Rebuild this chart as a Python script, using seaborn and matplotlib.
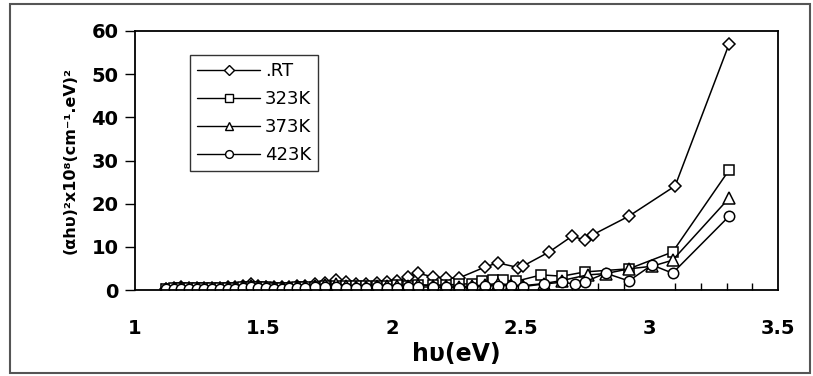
import numpy as np
import pandas as pd
import matplotlib
matplotlib.use("Agg")
import matplotlib.pyplot as plt
from matplotlib.lines import Line2D
from matplotlib.patches import Rectangle
from matplotlib.ticker import MultipleLocator
import seaborn as sns

# ---- data ----
series_names = [".RT", "323K", "373K", "423K"]

x_rt = [1.12, 1.15, 1.18, 1.21, 1.24, 1.27, 1.30, 1.33, 1.36, 1.39, 1.42, 1.45, 1.48, 1.51,
        1.54, 1.57, 1.60, 1.63, 1.66, 1.70, 1.74, 1.78, 1.82, 1.86, 1.90, 1.94, 1.98, 2.02,
        2.06, 2.10, 2.16, 2.21, 2.26, 2.36, 2.41, 2.49, 2.51, 2.61, 2.70, 2.75, 2.78, 2.92,
        3.10, 3.31]
y_rt = [0.3, 0.5, 0.8, 0.5, 0.4, 0.5, 0.4, 0.5, 0.6, 0.7, 0.9, 1.3, 1.0, 0.8,
        0.7, 0.6, 0.8, 0.9, 1.0, 1.4, 1.6, 2.3, 1.9, 1.5, 1.3, 1.6, 1.8, 2.0,
        3.0, 3.9, 3.0, 2.8, 2.8, 5.3, 6.3, 5.2, 5.6, 8.8, 12.5, 11.5, 12.8, 17.1,
        24.1, 57.0]

x_323 = [1.12, 1.15, 1.18, 1.21, 1.24, 1.27, 1.30, 1.33, 1.36, 1.39, 1.42, 1.45, 1.48, 1.51,
         1.54, 1.57, 1.60, 1.63, 1.66, 1.70, 1.74, 1.78, 1.82, 1.86, 1.90, 1.94, 1.98, 2.02,
         2.06, 2.10, 2.16, 2.21, 2.26, 2.31, 2.35, 2.39, 2.43, 2.48, 2.58, 2.66, 2.75, 2.92,
         3.09, 3.31]
y_323 = [0.3, 0.4, 0.5, 0.4, 0.4, 0.4, 0.4, 0.4, 0.5, 0.5, 0.6, 0.7, 0.7, 0.6,
         0.5, 0.5, 0.5, 0.6, 0.7, 0.8, 0.9, 1.0, 1.0, 0.9, 0.9, 1.0, 1.0, 1.1,
         1.0, 1.2, 1.1, 1.2, 1.3, 1.5, 2.0, 2.3, 2.3, 2.0, 3.5, 3.2, 4.2, 4.9,
         8.8, 27.8]

x_373 = [1.12, 1.15, 1.18, 1.21, 1.24, 1.27, 1.30, 1.33, 1.36, 1.39, 1.42, 1.45, 1.48, 1.51,
         1.54, 1.57, 1.60, 1.63, 1.66, 1.70, 1.74, 1.78, 1.82, 1.86, 1.90, 1.94, 1.98, 2.02,
         2.06, 2.10, 2.16, 2.21, 2.26, 2.31, 2.36, 2.41, 2.46, 2.51, 2.59, 2.66, 2.76, 2.83,
         2.92, 3.01, 3.09, 3.31]
y_373 = [0.2, 0.3, 0.4, 0.3, 0.3, 0.3, 0.3, 0.3, 0.4, 0.5, 0.7, 0.9, 0.8, 0.6,
         0.5, 0.4, 0.5, 0.6, 0.7, 0.9, 1.2, 1.4, 1.0, 0.8, 0.8, 0.9, 1.0, 1.0,
         1.0, 1.2, 1.0, 1.0, 0.8, 0.9, 1.2, 1.5, 1.2, 1.0, 1.5, 2.2, 3.5, 3.8,
         4.9, 5.5, 6.9, 21.3]

x_423 = [1.12, 1.15, 1.18, 1.21, 1.24, 1.27, 1.30, 1.33, 1.36, 1.39, 1.42, 1.45, 1.48, 1.51,
         1.54, 1.57, 1.60, 1.63, 1.66, 1.70, 1.74, 1.78, 1.82, 1.86, 1.90, 1.94, 1.98, 2.02,
         2.06, 2.10, 2.16, 2.21, 2.26, 2.31, 2.36, 2.41, 2.46, 2.51, 2.59, 2.66, 2.71, 2.75,
         2.83, 2.92, 3.01, 3.09, 3.31]
y_423 = [0.2, 0.3, 0.3, 0.3, 0.2, 0.2, 0.2, 0.2, 0.3, 0.3, 0.5, 0.6, 0.5, 0.4,
         0.3, 0.3, 0.4, 0.4, 0.5, 0.6, 0.7, 0.8, 0.5, 0.4, 0.5, 0.6, 0.5, 0.4,
         0.6, 0.7, 0.7, 0.6, 0.5, 0.6, 0.9, 1.0, 1.0, 0.8, 1.4, 1.8, 1.4, 1.9,
         3.9, 2.1, 5.8, 3.9, 17.1]

x_ticks = [1, 1.5, 2, 2.5, 3, 3.5]
x_tick_labels = ["1", "1.5", "2", "2.5", "3", "3.5"]
y_ticks = [0, 10, 20, 30, 40, 50, 60]

# ---- long-form table ----
frames = []
for name, xs, ys in zip(series_names, [x_rt, x_323, x_373, x_423], [y_rt, y_323, y_373, y_423]):
    frames.append(pd.DataFrame({"x": xs, "y": ys, "series": name}))
df = pd.concat(frames, ignore_index=True)

sns.set_style("white")
plt.rcParams["font.family"] = ["DejaVu Sans"]
plt.rcParams["text.color"] = "black"
plt.rcParams["axes.labelcolor"] = "black"
plt.rcParams["xtick.color"] = "black"
plt.rcParams["ytick.color"] = "black"

fig = plt.figure(figsize=(8.13, 3.76), dpi=100)
ax = fig.add_axes([135 / 813, 1 - 290 / 376, (778 - 135) / 813, (290 - 31) / 376])

marker_map = {".RT": "D", "323K": "s", "373K": "^", "423K": "o"}
size_map = {".RT": 6.5, "323K": 7.0, "373K": 8.5, "423K": 7.5}

for name in series_names:
    sub = df[df["series"] == name]
    sns.lineplot(data=sub, x="x", y="y", ax=ax, color="black", estimator=None,
                 sort=False, legend=False, linewidth=1.1,
                 marker=marker_map[name], markersize=size_map[name],
                 markerfacecolor="white", markeredgecolor="black",
                 markeredgewidth=1.1)

ax.set_xlim(1, 3.5)
ax.set_ylim(0, 60)
ax.set_xticks(x_ticks)
ax.set_xticklabels(x_tick_labels)
ax.set_yticks(y_ticks)
ax.xaxis.set_minor_locator(MultipleLocator(0.1))

for sp in ax.spines.values():
    sp.set_color("black")
    sp.set_linewidth(1.3)
    sp.set_visible(True)

ax.tick_params(axis="x", which="major", direction="out", length=6, width=1.2,
               pad=15, labelsize=14, colors="black", labelcolor="black")
ax.tick_params(axis="x", which="minor", direction="in", length=5, width=1.0,
               bottom=True, colors="black")
ax.tick_params(axis="y", which="major", direction="out", length=7, width=1.0,
               pad=5, labelsize=14, left=True, colors="black", labelcolor="black")
for lbl in ax.get_xticklabels() + ax.get_yticklabels():
    lbl.set_fontweight("bold")
    lbl.set_color("black")

ax.set_xlabel("hυ(eV)", fontsize=17, fontweight="bold", labelpad=3, color="black")
ax.set_ylabel("(αhυ)²x10⁸(cm⁻¹.eV)²", fontsize=11.5, fontweight="bold",
              labelpad=10, color="black")
ax.grid(False)

handles = [Line2D([], [], color="black", linewidth=1.0, marker=marker_map[n],
                  markersize=size_map[n] * 0.75, markerfacecolor="white",
                  markeredgecolor="black", markeredgewidth=1.0)
           for n in series_names]
leg = ax.legend(handles, series_names, loc="upper left",
                bbox_to_anchor=(190 / 813, 1 - 55 / 376),
                bbox_transform=fig.transFigure, borderaxespad=0,
                frameon=True, fancybox=False, edgecolor="black",
                fontsize=13, handlelength=3.5, handletextpad=0.25,
                labelspacing=0.55, borderpad=0.4)
leg.get_frame().set_linewidth(1.0)
for t in leg.get_texts():
    t.set_color("black")

fig.patches.append(Rectangle((10 / 813, 3 / 376), 800 / 813, 369 / 376,
                             transform=fig.transFigure, fill=False,
                             edgecolor="#555555", linewidth=1.5))

fig.savefig("out.png", dpi=100, facecolor="white")
